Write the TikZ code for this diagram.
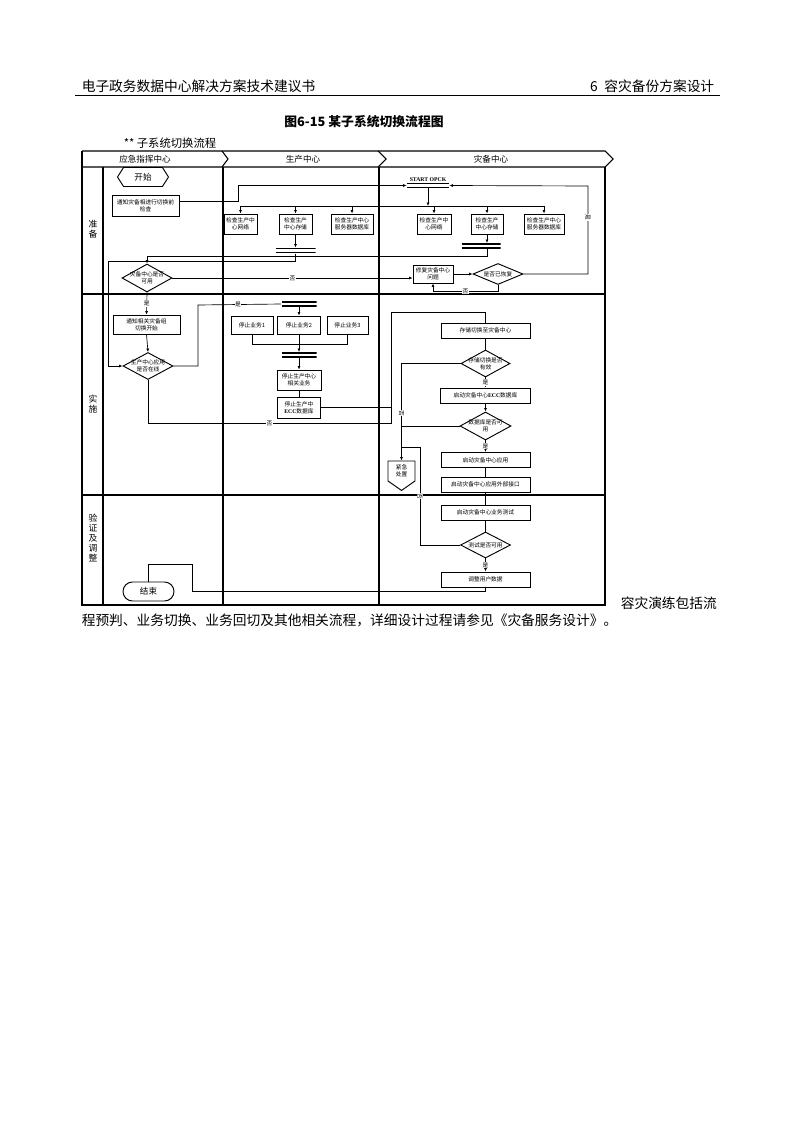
\documentclass[tikz,border=0pt]{standalone}
\usepackage{fontspec}
\setmainfont{Noto Sans CJK SC}
\newfontfamily\latfont{Liberation Serif}
\usepackage{tikz}
\usetikzlibrary{positioning,arrows.meta,shapes.geometric,shapes.misc,shapes.symbols,calc}
\newcommand\boxfont{\fontsize{4.3}{5.2}\selectfont}
\newcommand\lanefont{\fontsize{6.4}{7.4}\selectfont}
\newcommand\rowfont{\fontsize{6.6}{7.4}\selectfont}
\newcommand\bodyfont{\fontsize{10.3}{12}\selectfont}
\newcommand\titlefont{\fontsize{9.6}{11}\selectfont}

\begin{document}
\begin{tikzpicture}[x=0.75pt,y=-0.75pt,
  line width=0.5pt,
  box/.style={draw,line width=0.7pt,inner sep=0pt,align=center,font=\boxfont},
  dec/.style={draw,diamond,aspect=2,line width=0.7pt,inner sep=-4pt,align=center,font=\boxfont},
  syncbar/.style={inner sep=0pt,minimum height=4pt,
    path picture={
      \draw[line width=1.1pt] ([yshift=-0.55pt]path picture bounding box.north west) -- ([yshift=-0.55pt]path picture bounding box.north east);
      \draw[line width=1.1pt] ([yshift=0.55pt]path picture bounding box.south west) -- ([yshift=0.55pt]path picture bounding box.south east);}},
  arr/.style={-{Latex[length=2.6pt,width=2.2pt]}},
  lbl/.style={fill=white,inner sep=0.4pt,font=\boxfont},
  lane/.style={font=\lanefont},
  rowlbl/.style={font=\rowfont,align=center},
  frame/.style={line width=0.8pt}
]
\fill[white] (0,0) rectangle (794,1123);
\useasboundingbox (0,0) rectangle (794,1123);

% page header and caption
\node[anchor=west,font=\bodyfont] (hl) at (77,86) {电子政务数据中心解决方案技术建议书};
\node[anchor=east,font=\bodyfont] (hr) at (719,86) {6\hspace{5pt}容灾备份方案设计};
\draw (75,95) -- (720,95);
\node[font=\titlefont\bfseries] (ttl) at (364,122) {图6-15 某子系统切换流程图};
\node[anchor=west,font=\fontsize{8.5}{9}\selectfont] (sub) at (119,143) {** 子系统切换流程};

% swimlane frame
\draw[frame] (82,151) -- (605,151) -- (613,159) -- (605,167) -- (82,167);
\draw[frame] (222,151) -- (228,159) -- (222,167);
\draw[frame] (378,151) -- (386,159) -- (378,167);
\draw[frame] (82,151) -- (82,605) -- (605,605) -- (605,167);
\draw[frame] (103,167) -- (103,605);
\draw[frame] (223,167) -- (223,605);
\draw[frame] (379,167) -- (379,605);
\draw[frame] (82,294) -- (605,294);
\draw[frame] (82,495) -- (605,495);

\node[lane] (lcmd) at (145,159) {应急指挥中心};
\node[lane] (lprod) at (303,159) {生产中心};
\node[lane] (ldr) at (491,159) {灾备中心};
\node[rowlbl] (rprep) at (93,229) {准\\备};
\node[rowlbl] (rrun) at (93,404) {实\\施};
\node[rowlbl] (rchk) at (93,538) {验\\证\\及\\调\\整};

% preparation
\node[draw,line width=0.7pt,signal,signal to=west and east,signal pointer angle=115,
      minimum width=38.25pt,minimum height=14.25pt,inner sep=0pt,font=\lanefont] (start) at (143,177) {开始};
\node[box,minimum width=50.25pt,minimum height=15.75pt] (nb1) at (145.5,205.5) {通知灾备相进行切换前\\检查};

\node[syncbar,minimum width=31.5pt] (barS) at (428,185.5) {};
\node[font=\latfont\bfseries\fontsize{4.3}{5}\selectfont,inner sep=0.5pt,above=0pt of barS] (opck) {START OPCK};

\node[box,minimum width=24.75pt,minimum height=15pt] (c1) at (240.5,224) {检查生产中\\心网络};
\node[box,minimum width=24.75pt,minimum height=15pt] (c2) at (295.5,224) {检查生产\\中心存储};
\node[box,minimum width=31.5pt,minimum height=15pt] (c3) at (352,224) {检查生产中心\\服务器数据库};
\node[box,minimum width=25.5pt,minimum height=15pt] (c4) at (434,224) {检查生产中\\心网络};
\node[box,minimum width=24pt,minimum height=15pt] (c5) at (487,224) {检查生产\\中心存储};
\node[box,minimum width=30pt,minimum height=15pt] (c6) at (544,224) {检查生产中心\\服务器数据库};

\node[syncbar,minimum width=30pt] (barP1) at (295.5,250.5) {};
\node[syncbar,minimum width=29.25pt] (barD1) at (481,246) {};

\node[dec,minimum width=37.5pt,minimum height=21pt] (d1) at (147,278) {灾备中心是否\\可用};
\node[box,minimum width=30pt,minimum height=13.5pt] (fix) at (433,274) {修复灾备中心\\问题};
\node[dec,minimum width=37.5pt,minimum height=15.75pt] (d3) at (498,274) {是否已恢复};

% switch-over
\node[box,minimum width=50.25pt,minimum height=14.25pt] (nb2) at (146.5,324.5) {通知相关灾备组\\切换开始};
\node[dec,minimum width=37.5pt,minimum height=20.25pt] (d2) at (148,366) {生产中心应用\\是否在线};

\node[syncbar,minimum width=26.25pt] (barP2) at (299,304) {};
\node[box,minimum width=31.5pt,minimum height=13.5pt] (s1) at (252,325) {停止业务1};
\node[box,minimum width=32.25pt,minimum height=13.5pt] (s2) at (299,325) {停止业务2};
\node[box,minimum width=30.75pt,minimum height=13.5pt] (s3) at (347.5,325) {停止业务3};
\node[syncbar,minimum width=26.25pt] (barP3) at (299,355) {};
\node[box,minimum width=33pt,minimum height=15pt] (sp) at (299,380) {停止生产中心\\相关业务};
\node[box,minimum width=32.25pt,minimum height=15.75pt] (se) at (299,407.5) {停止生产中\\{\latfont\bfseries ECC}数据库};

\node[box,minimum width=66.75pt,minimum height=11.25pt] (sw) at (485.5,330.5) {存储切换至灾备中心};
\node[dec,minimum width=36.75pt,minimum height=20.25pt] (d4) at (485.5,363.5) {存储切换是否\\有效};
\node[box,minimum width=67.5pt,minimum height=11.25pt] (eccD) at (485.5,395.5) {启动灾备中心{\latfont\bfseries ECC}数据库};
\node[dec,minimum width=38.25pt,minimum height=21pt] (d5) at (485.5,426) {数据库是否可\\用};
\node[box,minimum width=66.75pt,minimum height=11.25pt] (app) at (485.5,460) {启动灾备中心应用};
\node[box,minimum width=66.75pt,minimum height=11.25pt] (ext) at (485.5,484.5) {启动灾备中心应用外部接口};
\node[draw,line width=0.7pt,signal,signal to=south,signal from=nowhere,signal pointer angle=110,
      minimum width=20.25pt,minimum height=18pt,inner sep=0pt,align=center,font=\boxfont] (em) at (401.5,471) {紧急\\处置};

% verification
\node[box,minimum width=66.75pt,minimum height=11.25pt] (tst) at (485.5,512.5) {启动灾备中心业务测试};
\node[dec,minimum width=37.5pt,minimum height=19.5pt] (d6) at (485.5,545) {测试是否可用};
\node[box,minimum width=66.75pt,minimum height=11.25pt] (adj) at (485.5,579.5) {调整用户数据};
\node[draw,line width=0.7pt,rounded rectangle,minimum width=38.25pt,minimum height=14.25pt,
      inner sep=0pt,font=\lanefont] (end) at (148.5,591.5) {结束};

% connectors: preparation
\coordinate (t1) at (238,201);
\coordinate (dl) at (238,206);
\draw[arr] (nb1.east |- t1) -- (t1) |- (barS.west);
\draw (c1 |- dl) -- (c6 |- dl);
\draw[arr] (barS.south) -- (barS.south |- dl);
\foreach \n in {c1,c2,c3,c4,c5,c6}
  \draw[arr] (\n |- dl) -- (\n.north);
\draw[arr] (c2.south) -- (c2.south |- barP1.north);
\draw[arr] (c5.south) -- (c5.south |- barD1.north);
\coordinate (lp) at (108,261);
\draw[arr] (barP1.south) |- (lp) |- (d2.west);
\coordinate (ld) at (147,256);
\draw[arr] (barD1.south -| c5) |- (ld) -- (d1.north);
\draw[arr] (d1.east) -- node[lbl]{否} (d1.east -| fix.west);
\draw[arr] (fix.east) -- (d3.west);
\coordinate (lf) at (498,291);
\draw[arr] (d3.south) |- node[lbl,pos=0.75]{否} (lf -| fix) -- (fix.south);
\coordinate (rr) at (588,186);
\draw[arr] (d3.east) -| node[lbl,pos=0.82,rotate=-90]{是} (rr) -- (barS.east);

% connectors: switch-over
\draw[arr] (d1.south) -- node[lbl]{是} (nb2.north);
\draw[arr] (nb2.south) -- (d2.north);
\coordinate (ly) at (198,305);
\draw (d2.east) -| (ly) -- node[lbl,pos=0.48]{是} (barP2.west);
\draw[arr] (barP2.south) -- (s2.north);
\coordinate (jy) at (300,344);
\draw (s1.south) |- (jy -| s3) -- (s3.south);
\draw[arr] (s2.south) -- (barP3.north);
\draw[arr] (barP3.south) -- (sp.north);
\draw (sp) -- (se);
\coordinate (jn) at (391,423);
\coordinate (jt) at (391,312);
\draw (se.east) -- (se.east -| jn);
\draw (d2.south) |- node[lbl,pos=0.75]{否} (jn) -- (jt) -| (sw.north);
\draw (sw) -- (d4);
\draw[arr] (d4) -- node[lbl]{是} (eccD);
\draw[arr] (eccD) -- (d5);
\draw[arr] (d5) -- node[lbl]{是} (app);
\draw (app) -- (ext);
\draw[arr] (d4.west) -| node[lbl,pos=0.755,rotate=-90]{否} (em.north);
\draw (d5.west) -- (d5.west -| em);

% connectors: verification
\draw (ext) -- (tst);
\draw (tst) -- (d6);
\draw[arr] (d6) -- node[lbl]{是} (adj);
\coordinate (lt) at (420,447);
\draw (d6.west) -| node[lbl,pos=0.75,rotate=-90]{否} (lt) -- (lt -| em);
\coordinate (la) at (192,591);
\coordinate (lb) at (192,564);
\draw (adj.south) |- (la) -- (lb) -| (end.north);

% running text
\node[anchor=west,font=\bodyfont] (p1) at (616,603) {容灾演练包括流};
\node[anchor=west,font=\bodyfont] (p2) at (77,620) {程预判、业务切换、业务回切及其他相关流程，详细设计过程请参见《灾备服务设计》。};
\end{tikzpicture}
\end{document}
